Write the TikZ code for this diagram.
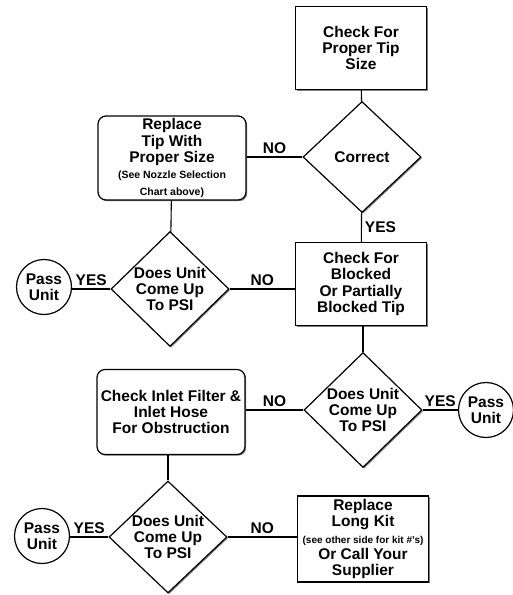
\documentclass[tikz,border=0pt]{standalone}
\usepackage{fontspec}
\setmainfont{Liberation Sans}
\usetikzlibrary{shapes.geometric,shadows}
\newcommand{\smallnote}[1]{{\fontsize{10.5}{11}\selectfont #1}}
\newcommand{\tinynote}[1]{{\fontsize{10}{9}\selectfont #1}}

\begin{document}
\begin{tikzpicture}[
        x=1pt,y=-1pt,
        every node/.style={inner sep=0pt,align=center,font=\bfseries\fontsize{15.5}{16.3}\selectfont},
        dropshade/.style={drop shadow={shadow xshift=1.2pt,shadow yshift=-1.2pt,opacity=1}},
        stepbox/.style={draw,fill=white,line width=1.2pt,minimum width=131pt,minimum height=83pt,dropshade},
        roundbox/.style={stepbox,rounded corners=8pt,minimum width=148pt,minimum height=84pt},
        decision/.style={diamond,draw,fill=white,line width=1.2pt,inner sep=-3pt,
          minimum width=118pt,minimum height=115pt,dropshade},
        passunit/.style={circle,draw,fill=white,line width=1.2pt,minimum size=55pt},
        link/.style={line width=1.1pt},
        answer/.style={inner sep=3pt},
      ]
      \useasboundingbox (0,0) rectangle (512,595);
      \node[stepbox] (tipsize) at (361,48) {Check For\\Proper Tip\\Size};
      \node[decision,minimum height=111pt] (correct) at (362,157) {Correct};
      \node[roundbox] (replacetip) at (172,158)
        {Replace\\Tip With\\Proper Size\\\smallnote{(See Nozzle Selection}\\\smallnote{Chart above)}};
      \node[stepbox] (blocked) at (361,284) {Check For\\Blocked\\Or Partially\\Blocked Tip};
      \node[decision] (psione) at (170,289) {Does Unit\\Come Up\\To PSI};
      \node[passunit] (passone) at (44,287) {Pass\\Unit};
      \node[decision] (psitwo) at (363,410) {Does Unit\\Come Up\\To PSI};
      \node[roundbox,minimum height=85pt] (inlet) at (171,412)
        {Check Inlet Filter \&\\Inlet Hose\\For Obstruction};
      \node[passunit] (passtwo) at (486,410) {Pass\\Unit};
      \node[decision,minimum height=112pt] (psithree) at (168,537) {Does Unit\\Come Up\\To PSI};
      \node[passunit] (passthree) at (42,536) {Pass\\Unit};
      \node[stepbox,minimum height=86pt] (longkit) at (363,539)
        {Replace\\Long Kit\\\tinynote{(see other side for kit \#'s)}\\Or Call Your\\Supplier};
      % connectors
      \draw[link] (tipsize) -- (correct);
      \draw[link] (correct.west) -- node[answer,above] {NO} (correct.west -| replacetip.east);
      \draw[link] (correct) -- node[answer,right] {YES} (blocked);
      \draw[link] (replacetip) -- (psione);
      \draw[link] (psione.east) -- node[answer,above] {NO} (psione.east -| blocked.west);
      \draw[link] (psione.west) -- node[answer,above] {YES} (psione.west -| passone.east);
      \draw[link] (blocked.south -| psitwo.north) -- (psitwo.north);
      \draw[link] (psitwo.west) -- node[answer,above] {NO} (psitwo.west -| inlet.east);
      \draw[link] (psitwo.east) -- node[answer,above] {YES} (psitwo.east -| passtwo.west);
      \draw[link] (inlet.south -| psithree.north) -- (psithree.north);
      \draw[link] (psithree.west) -- node[answer,above] {YES} (psithree.west -| passthree.east);
      \draw[link] (psithree.east) -- node[answer,above] {NO} (psithree.east -| longkit.west);
\end{tikzpicture}
\end{document}
